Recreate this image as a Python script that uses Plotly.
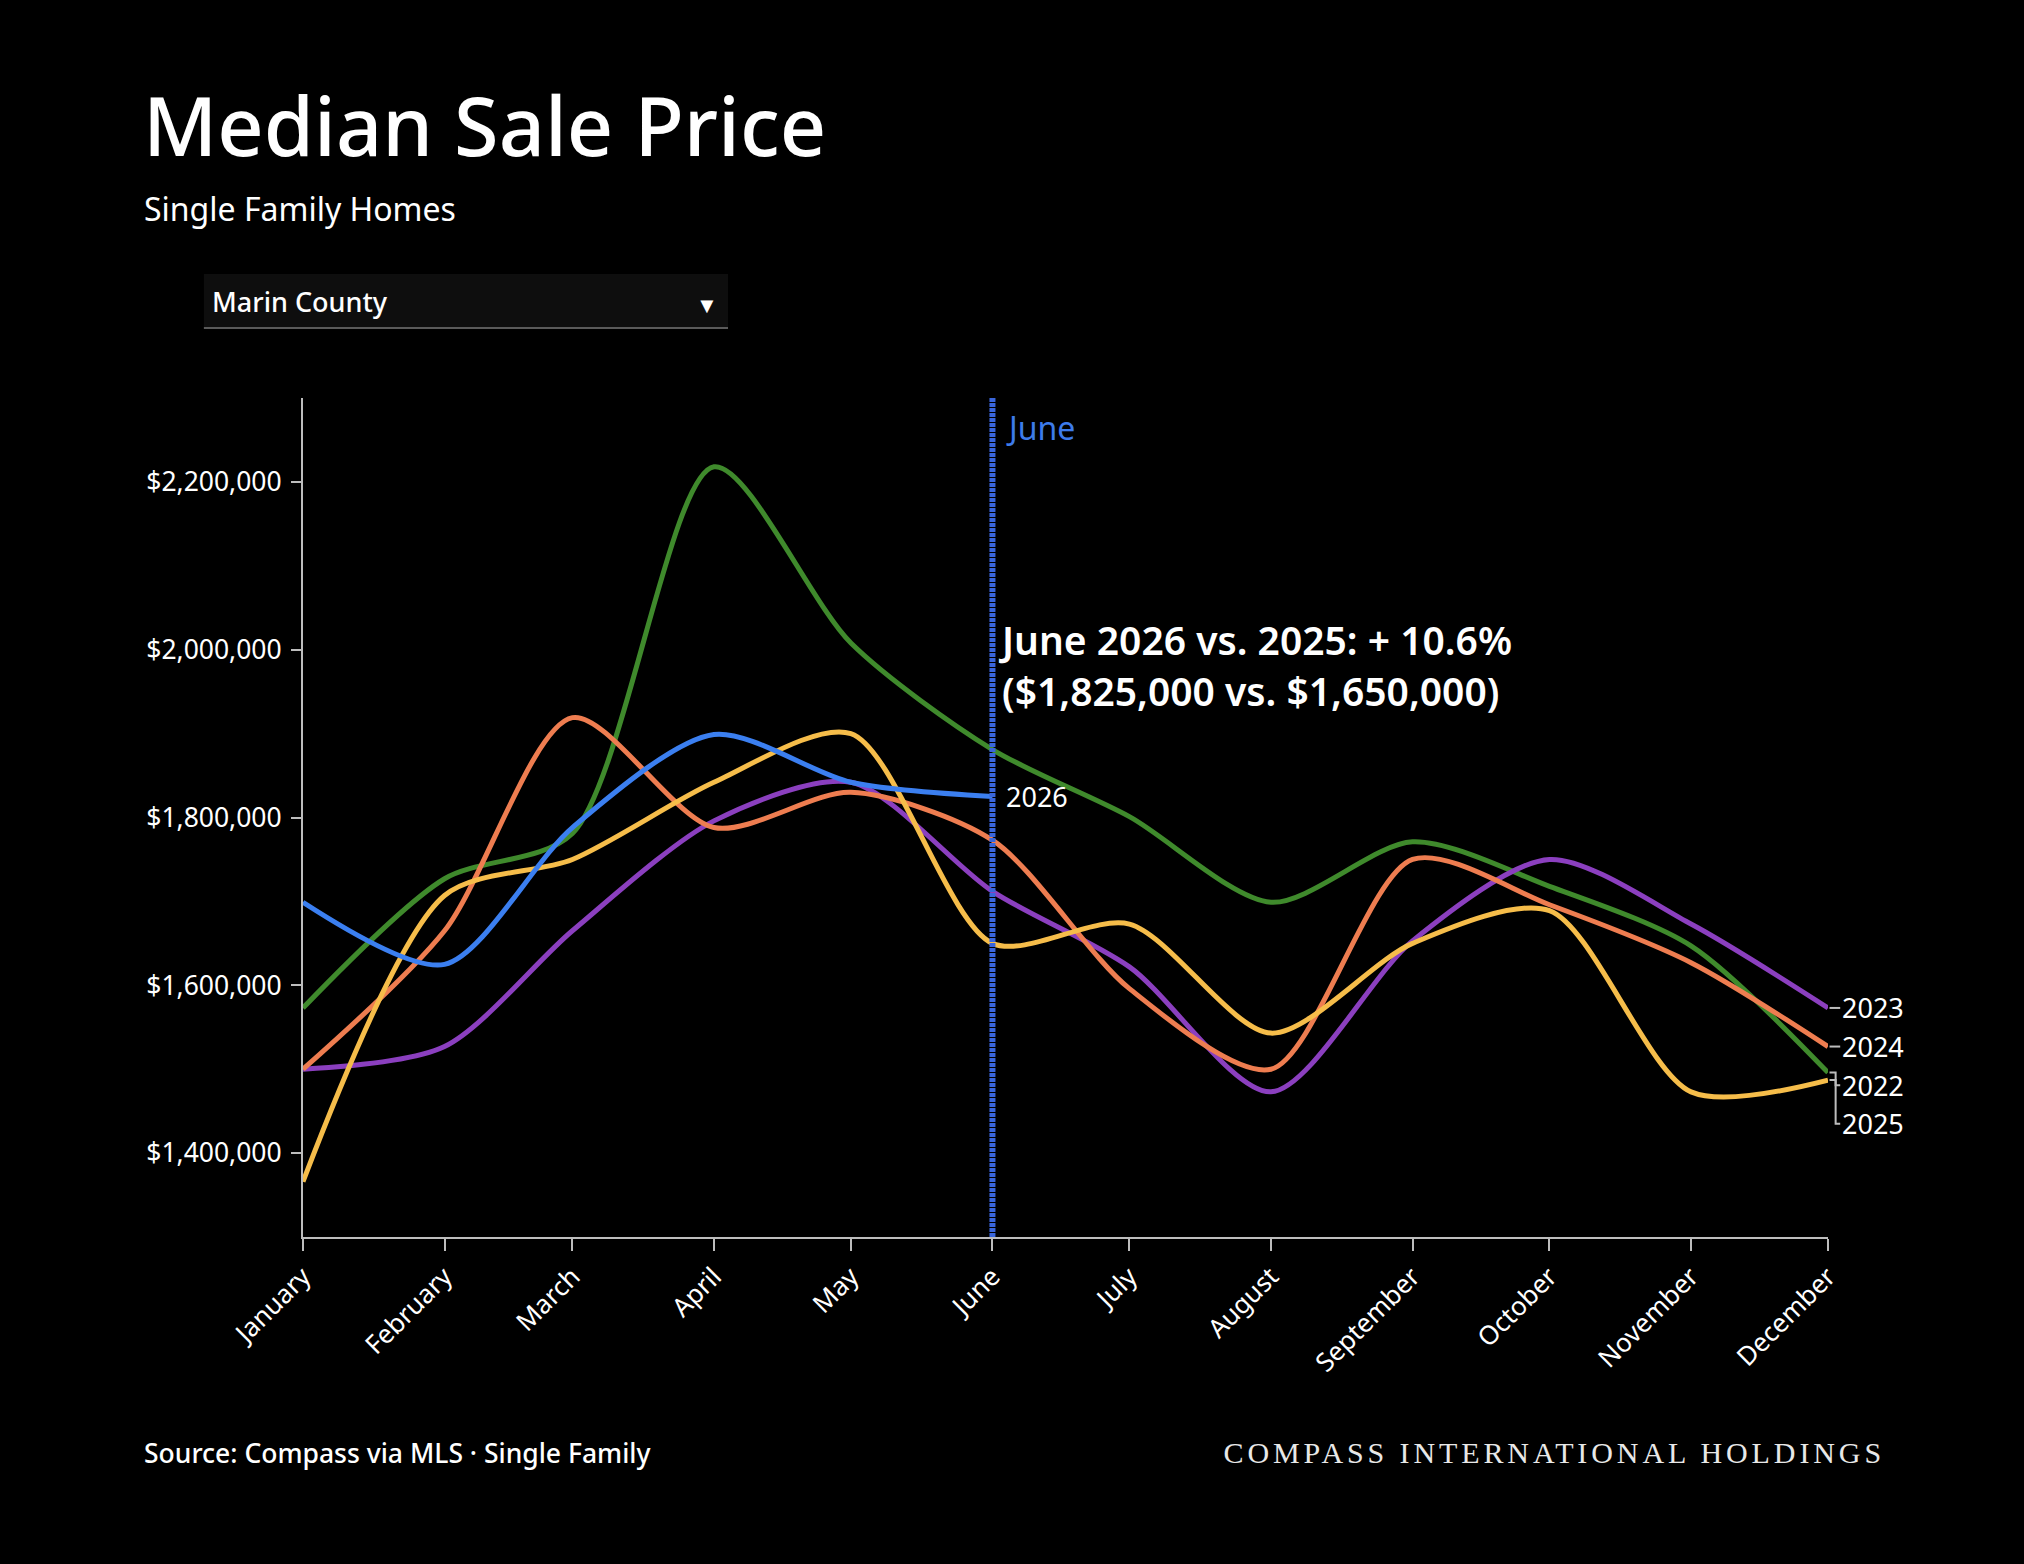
import plotly.graph_objects as go

# months on a real date axis so month lengths give the uneven spacing
months = ["2025-01-01", "2025-02-01", "2025-03-01", "2025-04-01", "2025-05-01", "2025-06-01",
          "2025-07-01", "2025-08-01", "2025-09-01", "2025-10-01", "2025-11-01", "2025-12-01"]
month_names = ["January", "February", "March", "April", "May", "June",
               "July", "August", "September", "October", "November", "December"]

# median sale price per year
y2022 = [1573000, 1727000, 1781000, 2218000, 2008000, 1881000,
         1801000, 1699000, 1771000, 1718000, 1647000, 1496000]
y2023 = [1500000, 1527000, 1665000, 1796000, 1842000, 1712000,
         1622000, 1473000, 1653000, 1750000, 1673000, 1573000]
y2024 = [1500000, 1665000, 1919000, 1788000, 1830000, 1773000,
         1596000, 1500000, 1750000, 1696000, 1627000, 1527000]
y2025 = [1366000, 1707000, 1750000, 1842000, 1900000, 1650000,
         1673000, 1543000, 1650000, 1689000, 1473000, 1487000]
y2026 = [1699000, 1625000, 1788000, 1899000, 1842000, 1825000]

y_ticks = [1400000, 1600000, 1800000, 2000000, 2200000]

series = [
    ("2022", y2022, "#3f8a2c"),
    ("2023", y2023, "#8b3fbf"),
    ("2024", y2024, "#ee7d50"),
    ("2025", y2025, "#f6bd4a"),
    ("2026", y2026, "#3b7ff0"),
]

FONT = "Noto Sans"
GREY = "#bdbdbd"

fig = go.Figure()
for name, vals, col in series:
    fig.add_trace(go.Scatter(
        x=months[:len(vals)], y=vals, name=name, mode="lines",
        line=dict(color=col, width=5, shape="spline", smoothing=0.8),
        hovertemplate="%{x|%B}: $%{y:,.0f}<extra>" + name + "</extra>",
    ))

# June marker line
fig.add_shape(type="line", xref="x", yref="paper", x0=months[5], x1=months[5], y0=0, y1=1,
              line=dict(color="#3a66dc", width=6, dash="4px,1px"))
fig.add_annotation(x=months[5], y=1, xref="x", yref="paper", text="June", showarrow=False,
                   xanchor="left", yanchor="top", xshift=12, yshift=-6,
                   font=dict(family=FONT, size=32, color="#3d7bea"))

# comparison callout
june_new, june_old = y2026[5], y2025[5]
pct = (june_new / june_old - 1) * 100
fig.add_annotation(x=months[5], y=2000000, xref="x", yref="y",
                   text=f"June 2026 vs. 2025: + {pct:.1f}%<br>(${june_new:,.0f} vs. ${june_old:,.0f})",
                   showarrow=False, xanchor="left", yanchor="middle", align="left",
                   xshift=5, yshift=-15,
                   font=dict(family=FONT, size=39, color="white", weight=600))

# end label for 2026
fig.add_annotation(x=months[5], y=y2026[-1], xref="x", yref="y", text="2026", showarrow=False,
                   xanchor="left", yanchor="middle", xshift=12,
                   font=dict(family=FONT, size=27, color="white"))

# end labels for full years, nudged apart
ends = sorted([(vals[-1], name) for name, vals, col in series if len(vals) == 12], reverse=True)
gap = 46000
prev = None
for val, name in ends:
    ly = val if prev is None else min(val, prev - gap)
    prev = ly
    fig.add_shape(type="path", xref="paper", yref="y",
                  path=f"M 1.001,{val} L 1.005,{val} L 1.005,{ly} L 1.008,{ly}",
                  line=dict(color=GREY, width=2))
    fig.add_annotation(x=1.0, y=ly, xref="paper", yref="y", text=name, showarrow=False,
                       xanchor="left", yanchor="middle", xshift=12,
                       font=dict(family=FONT, size=27, color="white"))

# title block
fig.add_annotation(x=-0.1065, y=1.3255, xref="paper", yref="paper", text="Median Sale Price",
                   showarrow=False, xanchor="left", yanchor="middle",
                   font=dict(family=FONT, size=81, color="white", weight=500))
fig.add_annotation(x=-0.1055, y=1.2255, xref="paper", yref="paper", text="Single Family Homes",
                   showarrow=False, xanchor="left", yanchor="middle",
                   font=dict(family=FONT, size=32, color="white"))

# county dropdown look-alike
fig.add_shape(type="rect", xref="paper", yref="paper", x0=-0.065, x1=0.2787, y0=1.0834, y1=1.1478,
              fillcolor="#0e0e0e", line=dict(width=0), layer="below")
fig.add_shape(type="line", xref="paper", yref="paper", x0=-0.065, x1=0.2787, y0=1.0834, y1=1.0834,
              line=dict(color="#5a5a5a", width=2))
fig.add_annotation(x=-0.061, y=1.1156, xref="paper", yref="paper", text="Marin County",
                   showarrow=False, xanchor="left", yanchor="middle",
                   font=dict(family=FONT, size=27, color="white", weight=500))
fig.add_annotation(x=0.265, y=1.112, xref="paper", yref="paper", text="▼",
                   showarrow=False, xanchor="center", yanchor="middle",
                   font=dict(family=FONT, size=22, color="white"))

# footer
fig.add_annotation(x=-0.1055, y=-0.257, xref="paper", yref="paper",
                   text="Source: Compass via MLS · Single Family", showarrow=False,
                   xanchor="left", yanchor="middle",
                   font=dict(family=FONT, size=26.5, color="white", weight=500))
fig.add_annotation(x=0.820, y=-0.257, xref="paper", yref="paper",
                   text="COMPASS INTERNATIONAL HOLDINGS", showarrow=False,
                   xanchor="center", yanchor="middle",
                   font=dict(family="Liberation Serif", size=30, color="#e8e8e8"))

fig.update_layout(
    width=2024, height=1564,
    margin=dict(l=303, r=196, t=398, b=327),
    paper_bgcolor="black", plot_bgcolor="black",
    showlegend=False,
    font=dict(family=FONT, color="white"),
    xaxis=dict(
        type="date", range=[months[0], months[-1]],
        tickvals=months, ticktext=month_names, tickangle=-45,
        showgrid=False, zeroline=False,
        showline=True, linecolor=GREY, linewidth=2,
        ticks="outside", ticklen=12, tickwidth=2, tickcolor=GREY,
        tickfont=dict(family=FONT, size=26, color="white"),
    ),
    yaxis=dict(
        range=[1300000, 2300000],
        tickvals=y_ticks, ticktext=[f"${v:,.0f}" for v in y_ticks],
        showgrid=False, zeroline=False,
        showline=True, linecolor=GREY, linewidth=2,
        ticks="outside", ticklen=10, tickwidth=2, tickcolor=GREY,
        ticklabelstandoff=4,
        tickfont=dict(family=FONT, size=26.5, color="white"),
    ),
)

# black page with no body margin, and letter-spaced wordmark
post = """
document.body.style.margin = '0';
document.body.style.background = 'black';
var gd = document.getElementById('{plot_id}');
function spaceMark() {
  gd.querySelectorAll('.annotation-text').forEach(function (t) {
    if (t.textContent.indexOf('COMPASS INTERNATIONAL') === 0) {
      t.setAttribute('letter-spacing', '3.9px');
    }
  });
}
spaceMark();
gd.on('plotly_afterplot', spaceMark);
"""

fig.write_html("out.html", post_script=post, config={"displayModeBar": False})
